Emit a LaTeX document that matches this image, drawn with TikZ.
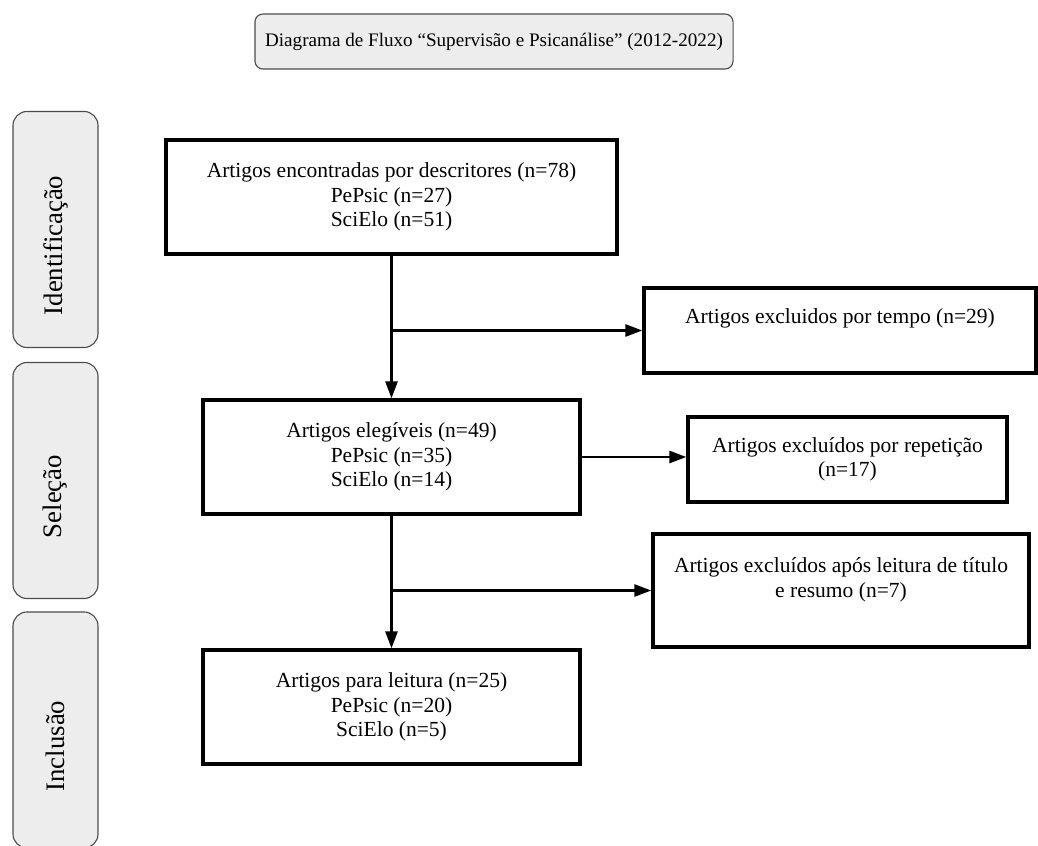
\documentclass[tikz,border=0pt]{standalone}
\usepackage{fontspec}
\setmainfont{Liberation Serif}
\usetikzlibrary{arrows.meta}

\begin{document}
\begin{tikzpicture}[
    x=0.025cm, y=-0.025cm,
    etapa/.style={draw=black!70, line width=0.8pt, fill=black!7, rounded corners=0.35cm,
        rotate=90, minimum width=5.9cm, minimum height=2.125cm, font=\fontsize{19}{22}\selectfont},
    titulo/.style={draw=black!70, line width=0.8pt, fill=black!7, rounded corners=0.2cm,
        minimum width=11.95cm, minimum height=1.375cm, font=\fontsize{13.6}{16}\selectfont},
    caixa/.style={draw, line width=2.4pt, align=center, font=\fontsize{15.3}{17.5}\selectfont},
    seta/.style={line width=1.7pt},
    >={Triangle[length=0.42cm, width=0.3cm]}
]
    \useasboundingbox (0,0) rectangle (1038,846);
    \clip (0,0) rectangle (1038,846);

    % Título
    \node[titulo] (title) at (494,41.5) {Diagrama de Fluxo “Supervisão e Psicanálise” (2012-2022)};

    % Etapas (3 faixas à esquerda)
    \node[etapa] (ident) at (55.5,229.5) {Identificação\hspace*{0.8cm}};
    \node[etapa] (selec) at (55.5,480.5) {Seleção\hspace*{0.8cm}};
    \node[etapa] (inclu) at (55.5,730) {Inclusão\hspace*{0.8cm}};

    % Caixas principais
    \node[caixa, minimum width=11.275cm, minimum height=2.85cm] (found) at (391.5,197)
        {Artigos encontradas por descritores (n=78)\\PePsic (n=27)\\SciElo (n=51)};
    \node[caixa, minimum width=9.425cm, minimum height=2.85cm] (elig) at (391.5,457)
        {Artigos elegíveis (n=49)\\PePsic (n=35)\\SciElo (n=14)};
    \node[caixa, minimum width=9.425cm, minimum height=2.85cm] (read) at (391.5,707)
        {Artigos para leitura (n=25)\\PePsic (n=20)\\SciElo (n=5)};

    % Caixas de exclusão
    \node[caixa, minimum width=9.8cm, minimum height=2.125cm, text depth=0.73cm] (excl1) at (840,330.5)
        {Artigos excluidos por tempo (n=29)};
    \node[caixa, minimum width=7.975cm, minimum height=2.125cm] (excl2) at (847.5,459.5)
        {Artigos excluídos por repetição\\(n=17)};
    \node[caixa, minimum width=9.4cm, minimum height=2.825cm, text depth=0.66cm] (excl3) at (841,590.5)
        {Artigos excluídos após leitura de título\\e resumo (n=7)};

    % Pontos de ramificação
    \coordinate (j1) at (found.south |- excl1.west);
    \coordinate (j2) at (elig.south |- excl3.west);

    % 1. Fluxo vertical
    \draw[seta, ->] (found) -- (elig);
    \draw[seta, ->] (elig) -- (read);

    % 2. Ramos para as exclusões
    \draw[seta, ->] (j1) -- (excl1.west);
    \draw[seta, ->] (elig.east) -- (elig.east -| excl2.west);
    \draw[seta, ->] (j2) -- (excl3.west);

\end{tikzpicture}
\end{document}
